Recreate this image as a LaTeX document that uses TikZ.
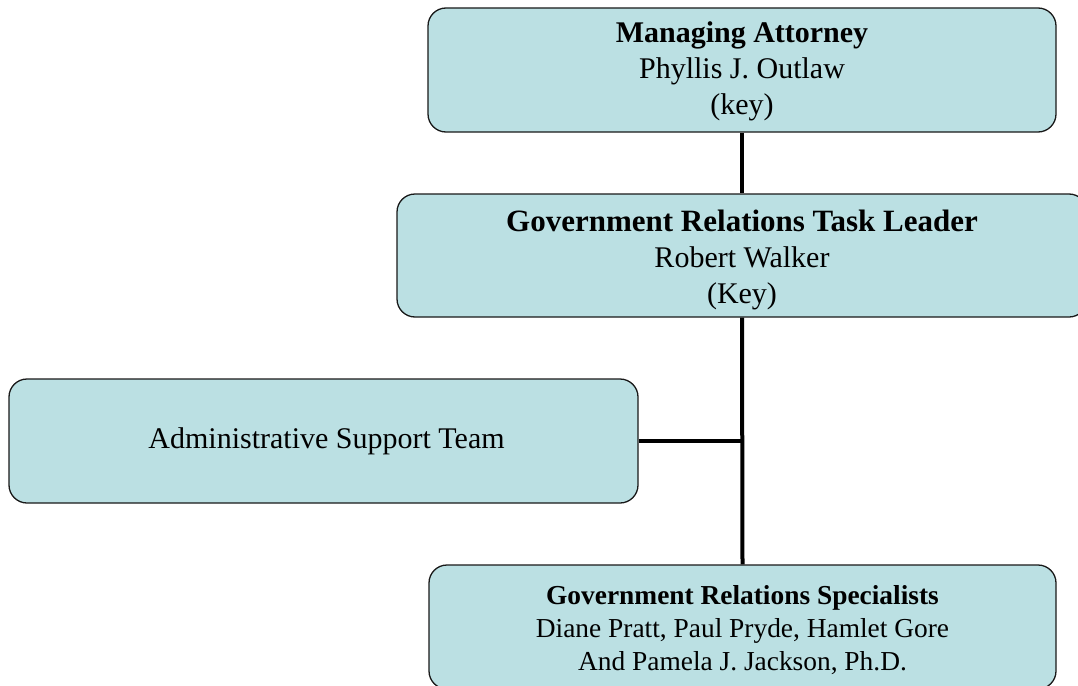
\documentclass[tikz,border=0pt]{standalone}
\usepackage{fontspec}
\setmainfont{Liberation Serif}
\definecolor{boxfill}{HTML}{BBE0E3}
\begin{document}
\begin{tikzpicture}[x=1pt,y=-1pt,
  orgbox/.style={draw=black!90, line width=1.3pt, fill=boxfill, rounded corners=18pt,
    inner sep=0pt, minimum width=#1},
  big/.style={font=\fontsize{30}{36}\selectfont, align=center, inner sep=0pt},
  small/.style={font=\fontsize{27.4}{33}\selectfont, align=center, inner sep=0pt},
  link/.style={line width=4pt}]
\useasboundingbox (0,0) rectangle (1078,685);
\clip (0,0) rectangle (1078,685);
\node[orgbox=628pt, minimum height=124pt] (ma) at (742,70) {};
\node[orgbox=690pt, minimum height=123pt] (tl) at (742,255.5) {};
\node[orgbox=629pt, minimum height=124pt] (ad) at (323.5,441) {};
\node[orgbox=627pt, minimum height=124pt] (sp) at (742.5,627) {};
\node[big] (mat) at ([yshift=-1pt]ma.center)
  {\textbf{Managing Attorney}\\Phyllis J. Outlaw\\(key)};
\node[big] (tlt) at ([yshift=-4pt]tl.center)
  {{\fontsize{31}{36}\selectfont\textbf{Government Relations Task Leader}}\\Robert Walker\\(Key)};
\node[big] (adt) at ([xshift=3pt]ad.center) {Administrative Support Team};
\node[small] (spt) at ([yshift=-3pt]sp.center)
  {\textbf{Government Relations Specialists}\\Diane Pratt, Paul Pryde, Hamlet Gore\\And Pamela J. Jackson, Ph.D.};
\coordinate (jn) at (ad.east -| tl.south);
\draw[link] (ma.south) -- (tl.north);
\draw[link] (tl.south) -- (sp.north);
\draw[link] (ad.east) -- (jn);
\end{tikzpicture}
\end{document}
